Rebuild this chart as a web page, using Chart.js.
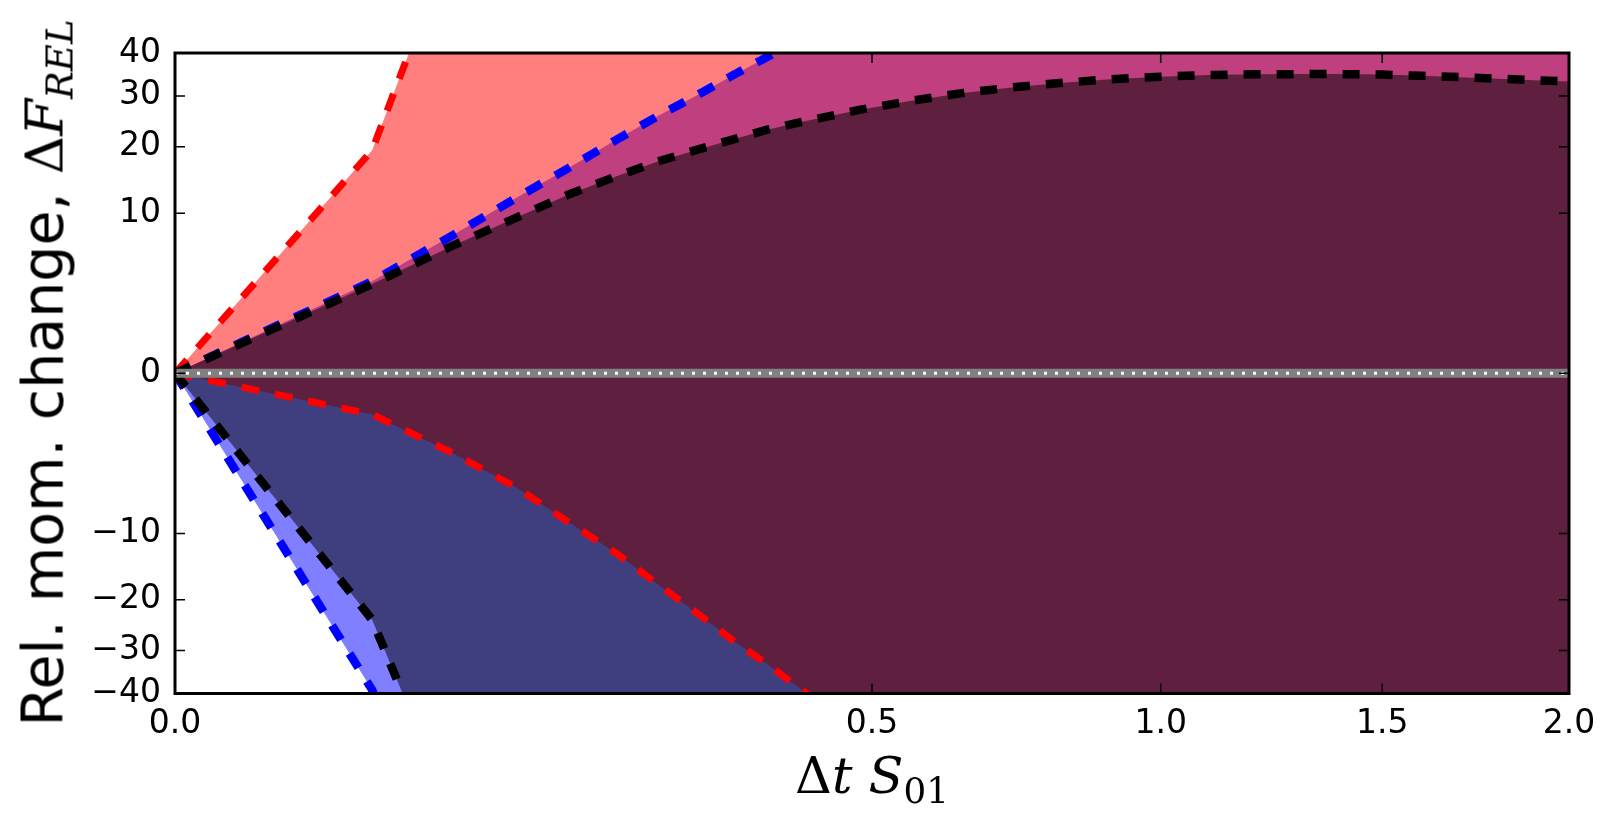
<!DOCTYPE html>
<html>
<head>
<meta charset="utf-8">
<script src="https://cdn.jsdelivr.net/npm/chart.js@4.4.1/dist/chart.umd.min.js"></script>
<style>
  html, body { margin: 0; padding: 0; background: #fff; }
  #cadre { position: relative; width: 1615px; height: 825px; }
  #graphique { position: absolute; left: 0; top: 0; }
  .titre { position: absolute; white-space: nowrap; line-height: 1; color: #000; }
  #titre-y { left: 43px; top: 373px; transform: translate(-50%, -50%) rotate(-90deg);
             font-family: 'DejaVu Sans'; font-size: 57px; }
  #titre-x { left: 872px; top: 750px; transform: translateX(-50%);
             font-family: 'DejaVu Serif'; font-size: 51px; }
  .math { font-family: 'DejaVu Serif'; font-size: 53px; }
  sub { font-size: 70%; vertical-align: baseline; position: relative; top: 0.28em; }
</style>
</head>
<body>
<div id="cadre">
  <canvas id="graphique" width="1615" height="825"></canvas>
  <div id="titre-y" class="titre">Rel. mom. change, <span class="math">Δ<i>F</i><sub><i>REL</i></sub></span></div>
  <div id="titre-x" class="titre">Δ<i>t</i> <i>S</i><sub>01</sub></div>
</div>
<script>
// Grille commune en Δt S01
const valeursX = [0, 0.04, 0.08, 0.12, 0.16, 0.2, 0.24, 0.28, 0.32, 0.36, 0.4, 0.48, 0.56, 0.64,
                  0.72, 0.8, 0.9, 1.0, 1.1, 1.2, 1.3, 1.4, 1.5, 1.6, 1.7, 1.8, 1.9, 2.0];

// Bornes de ΔF_REL (hors cadre = estimées)
const noirHaut = [0, 3.1, 6.4, 9.45, 12.5, 15.1, 17.5, 19.45, 21.3, 23.1, 24.5, 27.0, 29.0, 30.65,
                  31.85, 32.8, 33.7, 34.3, 34.7, 34.85, 34.9, 34.9, 34.8, 34.5, 34.2, 33.85, 33.5, 33.2];
const noirBas = [0, -23.7, -77, -120, -160, -200, -240, -280, -320, -360, -400, -480, -560, -640,
                 -720, -800, -900, -1000, -1100, -1200, -1300, -1400, -1500, -1600, -1700, -1800, -1900, -2000];
const rougeHaut = [0, 19.4, 75, 120, 165, 210, 255, 300, 345, 390, 435, 525, 615, 705,
                   795, 885, 1000, 1110, 1220, 1330, 1440, 1550, 1660, 1770, 1880, 1990, 2100, 2210];
const rougeBas = [0, -0.66, -2.52, -5.1, -8.7, -12.6, -17.4, -22.4, -27.8, -32.9, -38.5, -50, -62, -75,
                  -88, -100, -115, -130, -145, -160, -175, -190, -205, -220, -235, -250, -265, -280];
const bleuHaut = [0, 3.3, 7.5, 12.0, 16.5, 21.2, 25.8, 30.1, 34.6, 38.9, 43.4, 52, 61, 70,
                  79, 88, 99, 110, 121, 132, 143, 154, 165, 176, 187, 198, 209, 220];
const bleuBas = [0, -39.1, -110, -165, -220, -275, -330, -385, -440, -495, -550, -660, -770, -880,
                 -990, -1100, -1240, -1380, -1520, -1660, -1800, -1940, -2080, -2220, -2360, -2500, -2640, -2780];

// Ligne du zéro
const zeroX = [0, 2];
const zeroY = [0, 0];

// Graduations
const ticksX = [0, 0.5, 1.0, 1.5, 2.0];
const labelsX = ['0.0', '0.5', '1.0', '1.5', '2.0'];
const ticksY = [-40, -30, -20, -10, 0, 10, 20, 30, 40];
const labelsY = ['\u221240', '\u221230', '\u221220', '\u221210', '0', '10', '20', '30', '40'];

// Échelle racine carrée signée
const rac = v => Math.sign(v) * Math.sqrt(Math.abs(v));
class EchelleRacine extends Chart.LinearScale {
    getPixelForValue(value) {
        const a = rac(this.min), b = rac(this.max);
        return this.getPixelForDecimal((rac(value) - a) / (b - a));
    }
    getValueForPixel(pixel) {
        const a = rac(this.min), b = rac(this.max);
        const t = a + this.getDecimalForPixel(pixel) * (b - a);
        return Math.sign(t) * t * t;
    }
}
EchelleRacine.id = 'racine';
EchelleRacine.defaults = Chart.LinearScale.defaults;
Chart.register(EchelleRacine);

function serie(xs, ys) {
    return xs.map((x, i) => ({ x: x, y: ys[i] }));
}

function courbe(ys, couleur, epaisseur, tirets, remplissage) {
    return {
        data: serie(valeursX, ys),
        borderColor: couleur,
        borderWidth: epaisseur,
        borderDash: tirets,
        fill: remplissage || false,
        clip: 0
    };
}

// Cadre et graduations intérieures (style matplotlib)
const cadre = {
    id: 'cadre',
    afterDatasetsDraw(chart) {
        const ctx = chart.ctx;
        const a = chart.chartArea;
        const x = chart.scales.x, y = chart.scales.y;
        ctx.save();
        ctx.strokeStyle = '#000';
        ctx.lineWidth = 1.5;
        ctx.beginPath();
        ticksX.forEach(v => {
            const px = x.getPixelForValue(v);
            ctx.moveTo(px, a.bottom); ctx.lineTo(px, a.bottom - 10);
            ctx.moveTo(px, a.top); ctx.lineTo(px, a.top + 10);
        });
        ticksY.forEach(v => {
            const py = y.getPixelForValue(v);
            ctx.moveTo(a.left, py); ctx.lineTo(a.left + 10, py);
            ctx.moveTo(a.right, py); ctx.lineTo(a.right - 10, py);
        });
        ctx.stroke();
        ctx.lineWidth = 3;
        ctx.strokeRect(a.left, a.top, a.right - a.left, a.bottom - a.top);
        ctx.restore();
    }
};

const police = { family: 'DejaVu Sans', size: 33 };

new Chart(document.getElementById('graphique').getContext('2d'), {
    type: 'line',
    data: {
        datasets: [
            { data: serie(zeroX, zeroY), borderColor: '#ffffff', borderWidth: 3, borderDash: [3, 8], fill: false, clip: 0 },
            { data: serie(zeroX, zeroY), borderColor: '#808080', borderWidth: 9, fill: false, clip: 0 },
            courbe(noirHaut, '#000000', 8.5, [17, 16], { target: 3, above: 'rgba(0,0,0,0.5)', below: 'rgba(0,0,0,0.5)' }),
            courbe(noirBas, '#000000', 8.5, [17, 16]),
            courbe(rougeHaut, '#ff0000', 7, [18, 16], { target: 5, above: 'rgba(255,0,0,0.5)', below: 'rgba(255,0,0,0.5)' }),
            courbe(rougeBas, '#ff0000', 7, [18, 16]),
            courbe(bleuHaut, '#0000ff', 8.5, [17, 16], { target: 7, above: 'rgba(0,0,255,0.5)', below: 'rgba(0,0,255,0.5)' }),
            courbe(bleuBas, '#0000ff', 8.5, [17, 16])
        ]
    },
    options: {
        responsive: false,
        animation: false,
        events: [],
        layout: { padding: { top: 53, right: 46, left: 0, bottom: 0 } },
        elements: { point: { radius: 0 }, line: { tension: 0 } },
        plugins: {
            legend: { display: false },
            tooltip: { enabled: false },
            filler: { drawTime: 'beforeDatasetsDraw' }
        },
        scales: {
            x: {
                type: 'racine',
                min: 0,
                max: 2,
                afterBuildTicks: s => { s.ticks = ticksX.map(v => ({ value: v })); },
                afterFit: s => { s.height = 131.5; },
                grid: { display: false, drawTicks: false },
                border: { display: false },
                ticks: {
                    autoSkip: false, maxRotation: 0, padding: 11, color: '#000', font: police,
                    callback: (v, i) => labelsX[i]
                }
            },
            y: {
                type: 'racine',
                min: -40,
                max: 40,
                afterBuildTicks: s => { s.ticks = ticksY.map(v => ({ value: v })); },
                afterFit: s => { s.width = 175; },
                grid: { display: false, drawTicks: false },
                border: { display: false },
                ticks: {
                    autoSkip: false, padding: 14, color: '#000', font: police,
                    callback: (v, i) => labelsY[i]
                }
            }
        }
    },
    plugins: [cadre]
});
</script>
</body>
</html>
